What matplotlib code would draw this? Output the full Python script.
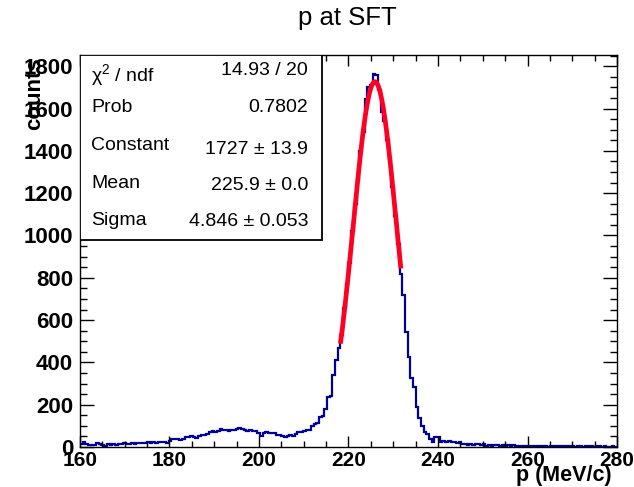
#!/usr/bin/env python3
import numpy as np
import matplotlib
matplotlib.use("Agg")
import matplotlib.pyplot as plt
from matplotlib.patches import Rectangle
from matplotlib.ticker import MultipleLocator

plt.rcParams.update(
    {
        "font.family": ["Liberation Sans", "DejaVu Sans"],
        "mathtext.fontset": "custom",
        "mathtext.rm": "Liberation Sans",
        "mathtext.it": "Liberation Sans:italic",
    }
)

# histogram: 200 bins of 0.6 MeV/c between 160 and 280
X_MIN, X_MAX, N_BINS = 160.0, 280.0, 200
counts = [
    12, 22, 15, 8, 10, 9, 18, 12, 10, 7,
    12, 11, 14, 9, 13, 12, 17, 14, 15, 18,
    16, 20, 17, 21, 19, 22, 20, 23, 21, 24,
    22, 25, 21, 28, 40, 36, 38, 34, 36, 48,
    45, 50, 47, 44, 52, 55, 58, 62, 70, 74,
    72, 75, 84, 80, 82, 78, 81, 79, 85, 92,
    84, 82, 78, 80, 76, 77, 66, 52, 66, 70,
    68, 64, 66, 58, 55, 50, 48, 52, 55, 54,
    60, 72, 70, 78, 82, 80, 98, 110, 112, 140,
    145, 180, 235, 240, 340, 410, 466, 530, 655, 770,
    870, 1020, 1150, 1260, 1400, 1490, 1647, 1700, 1710, 1765,
    1760, 1690, 1584, 1540, 1450, 1360, 1230, 1090, 960, 820,
    718, 545, 427, 324, 285, 190, 135, 100, 72, 60,
    40, 25, 45, 48, 22, 28, 24, 30, 22, 26,
    20, 24, 12, 14, 10, 15, 9, 12, 14, 8,
    12, 7, 10, 6, 9, 11, 6, 8, 5, 9,
    7, 10, 6, 4, 7, 5, 3, 6, 4, 7,
    5, 3, 6, 4, 2, 5, 3, 6, 4, 2,
    5, 3, 4, 6, 2, 3, 5, 2, 4, 3,
    5, 2, 3, 4, 2, 3, 1, 2, 3, 2,
]
assert len(counts) == N_BINS

# gaussian fit result
fit_const, fit_mean, fit_sigma = 1727.0, 225.9, 4.846
fit_range = (218.2, 231.7)

stat_labels = ["\u03c7$^{2}$ / ndf", "Prob", "Constant", "Mean", "Sigma"]
stat_values = ["14.93 / 20", "0.7802", "1727 \u00b1 13.9", "225.9 \u00b1 0.0", "4.846 \u00b1 0.053"]

HIST_COLOR = "#000099"
FIT_COLOR = "#ff0022"

fig = plt.figure(figsize=(6.34, 4.87), dpi=100)
ax = fig.add_axes([80 / 634, 40 / 487, 537 / 634, 392 / 487])

edges = np.linspace(X_MIN, X_MAX, N_BINS + 1)
ax.stairs(counts, edges, color=HIST_COLOR, linewidth=1.6, baseline=None)

xf = np.linspace(*fit_range, 300)
yf = fit_const * np.exp(-0.5 * ((xf - fit_mean) / fit_sigma) ** 2)
ax.plot(xf, yf, color=FIT_COLOR, linewidth=3.4, solid_capstyle="butt", zorder=3)

ax.set_xlim(X_MIN, X_MAX)
ax.set_ylim(0, 1.05 * max(counts))

ax.xaxis.set_major_locator(MultipleLocator(20))
ax.xaxis.set_minor_locator(MultipleLocator(5))
ax.yaxis.set_major_locator(MultipleLocator(200))
ax.yaxis.set_minor_locator(MultipleLocator(50))
ax.tick_params(which="both", direction="in", top=True, right=True, width=1.0, color="black")
ax.tick_params(axis="y", which="major", length=10, pad=5)
ax.tick_params(axis="y", which="minor", length=5)
ax.tick_params(axis="x", which="major", length=8, pad=3)
ax.tick_params(axis="x", which="minor", length=4)
for lab in ax.get_yticklabels():
    lab.set_fontsize(16)
    lab.set_fontweight("bold")
for lab in ax.get_xticklabels():
    lab.set_fontsize(15)
    lab.set_fontweight("bold")
for sp in ax.spines.values():
    sp.set_linewidth(1.0)

# stats box
ax.add_patch(
    Rectangle((0, 0.528), 0.4507, 0.472, transform=ax.transAxes,
              facecolor="white", edgecolor="black", linewidth=1.3, zorder=5)
)
label_y = [0.949, 0.865, 0.770, 0.673, 0.579]
value_y = [0.960, 0.865, 0.758, 0.666, 0.574]
for lab, ly, val, vy in zip(stat_labels, label_y, stat_values, value_y):
    ax.text(0.0205, ly, lab, transform=ax.transAxes, ha="left", va="center",
            fontsize=14, zorder=6)
    ax.text(0.4246, vy, val, transform=ax.transAxes, ha="right", va="center",
            fontsize=14, zorder=6)

fig.text(347 / 634, 1 - 18 / 487, "p at SFT", ha="center", va="center", fontsize=18.5)
fig.text(35 / 634, 1 - 57 / 487, "counts", rotation=90, ha="center", va="top",
         fontsize=16, fontweight="bold")
fig.text(612 / 634, 1 - 476 / 487, "p (MeV/c)", ha="right", va="center",
         fontsize=15.5, fontweight="bold")

fig.savefig("out.png", dpi=100)
